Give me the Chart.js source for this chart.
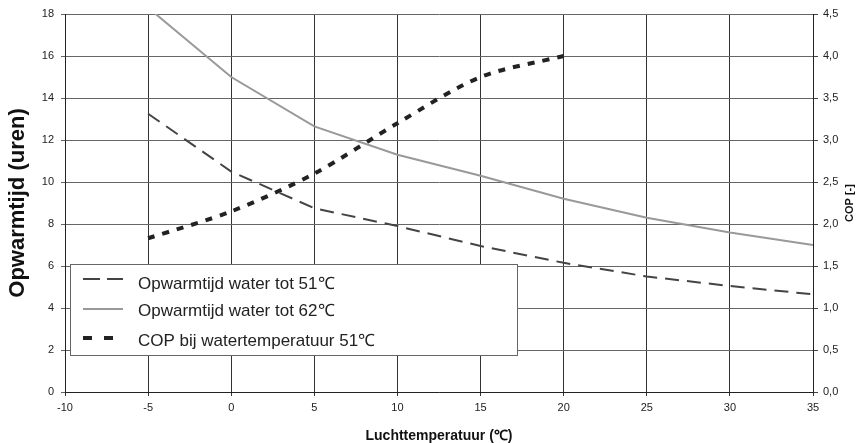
<!DOCTYPE html>
<html>
<head>
<meta charset="utf-8">
<script src="https://cdn.jsdelivr.net/npm/chart.js@4"></script>
<style>
  html, body { margin: 0; padding: 0; background: #fff; }
  #wrap { width: 858px; height: 443px; position: relative; }
</style>
</head>
<body>
<div id="wrap"><canvas id="warmteChart"></canvas></div>
<script>
// Chart data
const temps = [-5, 0, 5, 10, 15, 20, 25, 30, 35];
const opwarm51 = [13.25, 10.5, 8.75, 7.9, 6.95, 6.15, 5.5, 5.05, 4.65];
const opwarm62 = [18.3, 15.0, 12.65, 11.3, 10.3, 9.2, 8.3, 7.6, 7.0];
const copTemps = [-5, 0, 5, 10, 15, 20];
const cop51 = [1.83, 2.15, 2.6, 3.2, 3.75, 4.0];

const labels = ["Opwarmtijd water tot 51℃", "Opwarmtijd water tot 62℃", "COP bij watertemperatuur 51℃"];
const FONT = "'Liberation Sans', Arial, sans-serif";

const toPoints = (xs, ys) => xs.map((x, i) => ({ x: x, y: ys[i] }));

// legend box drawn inside the plot, like the original
const legendBox = { x: 70, y: 264, w: 447, h: 91 };
const legendRows = [
    { lineY: 15, textY: 20 },
    { lineY: 45, textY: 47 },
    { lineY: 74, textY: 77 },
];

const boxLegend = {
    id: "boxLegend",
    afterDraw(chart) {
        const ctx = chart.ctx;
        ctx.save();
        ctx.fillStyle = "#fff";
        ctx.fillRect(legendBox.x, legendBox.y, legendBox.w, legendBox.h);
        ctx.strokeStyle = "#666";
        ctx.lineWidth = 1;
        ctx.strokeRect(legendBox.x + 0.5, legendBox.y + 0.5, legendBox.w, legendBox.h);

        chart.data.datasets.forEach((ds, i) => {
            const row = legendRows[i];
            const ly = legendBox.y + row.lineY;
            ctx.beginPath();
            ctx.setLineDash(ds.legendDash || []);
            ctx.lineWidth = ds.borderWidth;
            ctx.strokeStyle = ds.borderColor;
            ctx.moveTo(legendBox.x + 13, ly);
            ctx.lineTo(legendBox.x + 53, ly);
            ctx.stroke();
            ctx.setLineDash([]);

            ctx.fillStyle = "#222";
            ctx.font = "17px " + FONT;
            ctx.textBaseline = "middle";
            ctx.textAlign = "left";
            ctx.fillText(ds.label, legendBox.x + 68, legendBox.y + row.textY);
        });

        // right axis title, reading bottom-to-top
        const a = chart.chartArea;
        ctx.translate(850, (a.top + a.bottom) / 2);
        ctx.rotate(-Math.PI / 2);
        ctx.font = "bold 11px " + FONT;
        ctx.fillStyle = "#111";
        ctx.textAlign = "center";
        ctx.textBaseline = "middle";
        ctx.fillText("COP [-]", 0, 0);
        ctx.restore();
    },
};

document.addEventListener("DOMContentLoaded", () => {
    const canvas = document.getElementById("warmteChart");
    const ctx = canvas.getContext("2d");

    const chartData = {
        datasets: [
            {
                label: labels[0],
                data: toPoints(temps, opwarm51),
                borderColor: "#444",
                borderWidth: 2,
                borderDash: [14, 8],
                legendDash: [17, 7],
                pointRadius: 0,
                tension: 0,
                yAxisID: "y",
            },
            {
                label: labels[1],
                data: toPoints(temps, opwarm62),
                borderColor: "#999",
                borderWidth: 2,
                pointRadius: 0,
                tension: 0,
                yAxisID: "y",
            },
            {
                label: labels[2],
                data: toPoints(copTemps, cop51),
                borderColor: "#222",
                borderWidth: 4,
                borderDash: [7, 8],
                legendDash: [9, 12],
                pointRadius: 0,
                tension: 0.3,
                yAxisID: "y1",
            },
        ],
    };

    const tickFont = { family: FONT, size: 11 };

    const chartOptions = {
        responsive: true,
        maintainAspectRatio: false,
        animation: false,
        layout: { padding: { top: 14, left: 0, right: 0, bottom: 0 } },
        plugins: {
            legend: { display: false },
            tooltip: { enabled: false },
        },
        scales: {
            x: {
                type: "linear",
                min: -10,
                max: 35,
                afterFit: (s) => { s.height = 51; },
                ticks: { stepSize: 5, color: "#222", font: tickFont, padding: 5 },
                grid: { color: "#333", lineWidth: 1, tickLength: 4 },
                border: { color: "#222", width: 1 },
                title: {
                    display: true,
                    text: "Luchttemperatuur (℃)",
                    color: "#111",
                    font: { family: FONT, size: 14, weight: "bold", lineHeight: 1 },
                    padding: 0,
                },
            },
            y: {
                position: "left",
                min: 0,
                max: 18,
                afterFit: (s) => { s.width = 65; },
                ticks: { stepSize: 2, color: "#222", font: tickFont, padding: 7 },
                grid: { color: "#666", lineWidth: 1, tickLength: 4 },
                border: { color: "#222", width: 1 },
                title: {
                    display: true,
                    text: "Opwarmtijd (uren)",
                    color: "#111",
                    font: { family: FONT, size: 22, weight: "bold", lineHeight: 1 },
                    padding: { top: 6.5, bottom: 0 },
                },
            },
            y1: {
                position: "right",
                min: 0,
                max: 4.5,
                afterFit: (s) => { s.width = 45; },
                ticks: {
                    stepSize: 0.5,
                    color: "#222",
                    font: tickFont,
                    padding: 5,
                    callback: (v) => v.toFixed(1).replace(".", ","),
                },
                grid: { drawOnChartArea: false, color: "#444", tickLength: 5 },
                border: { color: "#222", width: 1 },
            },
        },
    };

    new Chart(ctx, {
        type: "line",
        data: chartData,
        options: chartOptions,
        plugins: [boxLegend],
    });
});
</script>
</body>
</html>
